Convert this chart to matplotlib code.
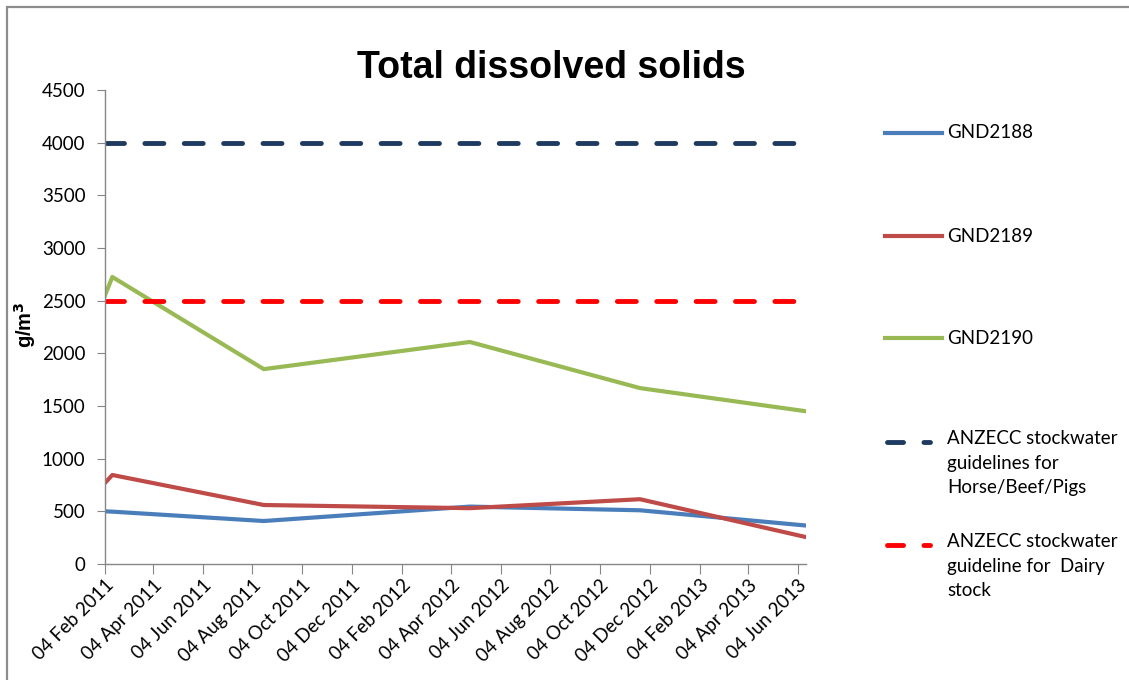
import matplotlib
matplotlib.use("Agg")
import matplotlib.pyplot as plt
import matplotlib.dates as mdates
import pandas as pd
from matplotlib.lines import Line2D
from matplotlib.patches import Rectangle

# sample dates (shared by all three bores)
sample_dates = pd.to_datetime(
    ["2011-02-04", "2011-02-13", "2011-08-18", "2012-04-27", "2012-11-22", "2013-06-14"]
)
gnd2188 = [500, 497, 408, 545, 510, 365]
gnd2189 = [770, 845, 560, 530, 615, 255]
gnd2190 = [2550, 2725, 1850, 2108, 1670, 1450]

guide_horse = 4000
guide_dairy = 2500

series_names = ["GND2188", "GND2189", "GND2190"]
guide_names = [
    "ANZECC stockwater\nguidelines for\nHorse/Beef/Pigs",
    "ANZECC stockwater\nguideline for  Dairy\nstock",
]

c_blue, c_red, c_green = "#4A7EBB", "#BE4B48", "#98B954"
c_navy, c_dairy = "#1F3A60", "#FF0000"
tick_font = "Lato"

fig = plt.figure(figsize=(11.29, 6.8), dpi=100)
ax = fig.add_axes([0.093, 0.1706, 0.621, 0.697])

for vals, col in zip([gnd2188, gnd2189, gnd2190], [c_blue, c_red, c_green]):
    ax.plot(sample_dates, vals, color=col, lw=3.0, solid_joinstyle="round")

xmin, xmax = sample_dates[0], sample_dates[-1]
ax.plot([xmin, xmax], [guide_horse] * 2, color=c_navy, lw=3.5,
        dashes=(3.9, 4.2), dash_capstyle="round")
ax.plot([xmin, xmax], [guide_dairy] * 2, color=c_dairy, lw=3.5,
        dashes=(3.9, 4.2), dash_capstyle="round")

ax.set_xlim(xmin, xmax)
ax.set_ylim(0, 4500)
ax.set_yticks(range(0, 4501, 500))
ax.xaxis.set_major_locator(mdates.MonthLocator(bymonth=[2, 4, 6, 8, 10, 12], bymonthday=4))
ax.xaxis.set_major_formatter(mdates.DateFormatter("%d %b %Y"))

for s in ["top", "right"]:
    ax.spines[s].set_visible(False)
for s in ["left", "bottom"]:
    ax.spines[s].set_color("#868686")
    ax.spines[s].set_linewidth(1.0)
ax.tick_params(axis="y", length=6, color="#868686", labelsize=13.5, pad=8)
ax.tick_params(axis="x", length=7, color="#868686", labelsize=13.5, pad=2)
for lab in ax.get_yticklabels() + ax.get_xticklabels():
    lab.set_fontfamily(tick_font)
for lab in ax.get_xticklabels():
    lab.set_rotation(45)
    lab.set_ha("right")
    lab.set_rotation_mode("anchor")

ax.set_ylabel("g/m$^\\mathbf{3}$", fontsize=14.5, fontweight="bold", family="Liberation Sans")
ax.yaxis.set_label_coords(-0.096, 0.504)

fig.text(0.488, 0.900, "Total dissolved solids", ha="center", va="center",
         fontsize=27, fontweight="bold", family="Liberation Sans")

# outer chart frame (only top and left edges fall inside the picture)
fig.add_artist(Rectangle((7 / 1129, -0.1), 1.2, 1.1 - 7 / 680, transform=fig.transFigure,
                         fill=False, edgecolor="#8C8C8C", lw=1.6))

# legend on the right, drawn by hand to mimic the spacing of the original
W, H = 1129, 680
legend_rows = [(133, c_blue, "-", series_names[0]),
               (236, c_red, "-", series_names[1]),
               (338, c_green, "-", series_names[2]),
               (442, c_navy, "--", guide_names[0]),
               (545, c_dairy, "--", guide_names[1])]
for ypx, col, ls, text in legend_rows:
    yf = 1 - ypx / H
    if ls == "-":
        fig.add_artist(Line2D([885 / W, 942 / W], [yf, yf], color=col, lw=3.0,
                              transform=fig.transFigure))
        fig.text(947 / W, yf, text, ha="left", va="center", fontsize=13.5, family=tick_font)
    else:
        fig.add_artist(Line2D([887 / W, 930 / W], [yf, yf], color=col, lw=3.5,
                              dashes=(3.3, 4.2), dash_capstyle="round",
                              transform=fig.transFigure))
        fig.text(947 / W, yf + 12 / H, text, ha="left", va="top", fontsize=13.5,
                 family=tick_font, linespacing=1.55)

fig.savefig("out.png", dpi=100)
